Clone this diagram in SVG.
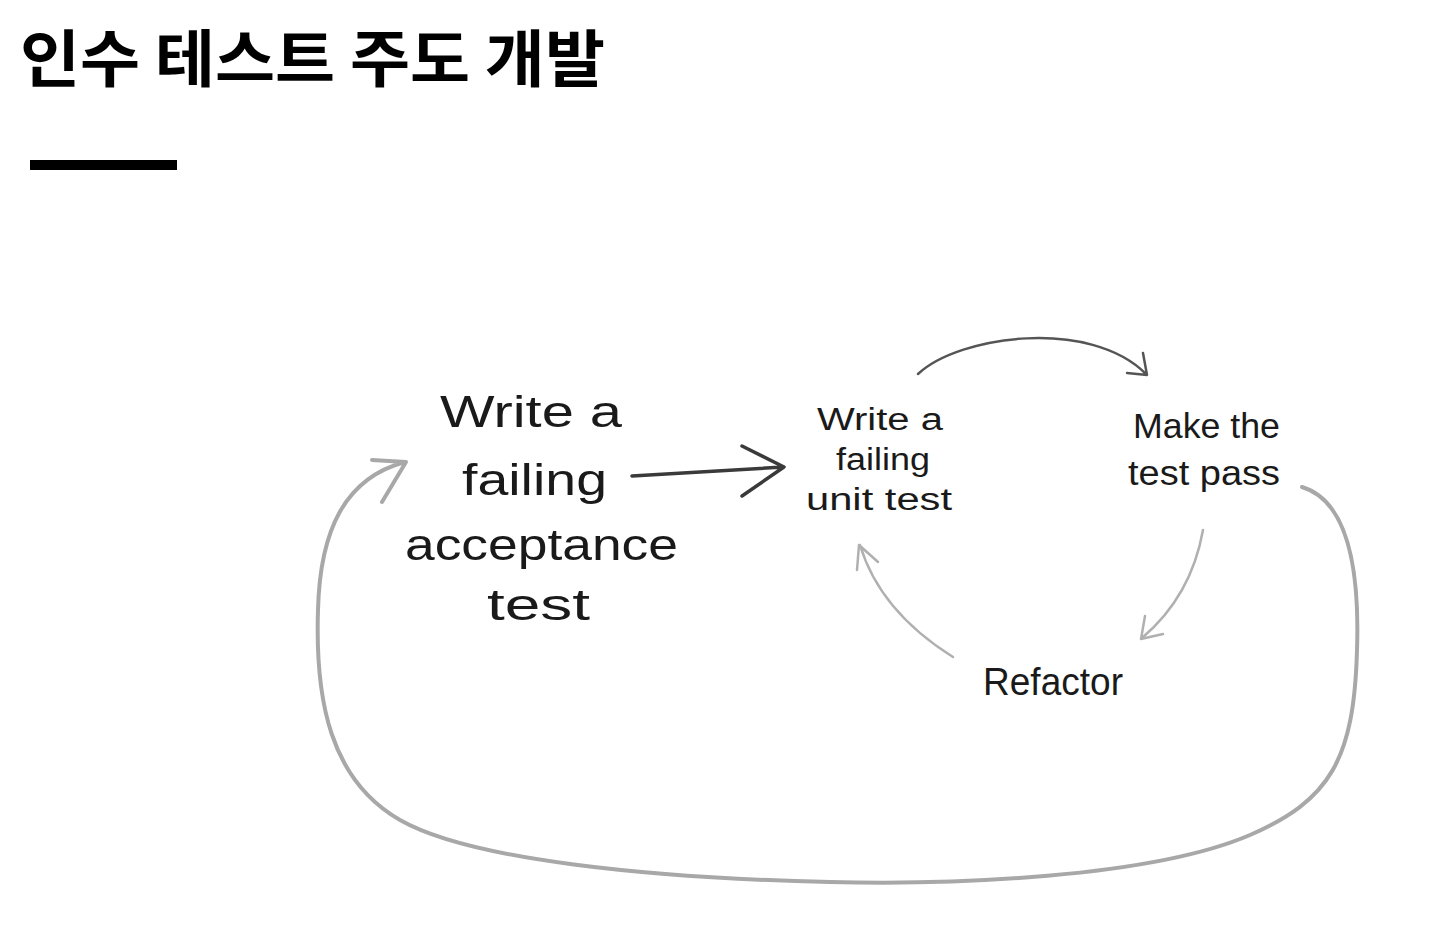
<svg xmlns="http://www.w3.org/2000/svg" width="1432" height="940" viewBox="0 0 1432 940">
<style>
.title{font-family:"Noto Sans CJK KR","Noto Sans",sans-serif;font-weight:700;font-size:62px;fill:#000}
.hand{font-family:"Liberation Sans","DejaVu Sans",sans-serif;fill:#1a1a1a}
.dark{fill:none;stroke:#3a3a3a;stroke-width:3.5;stroke-linecap:round;stroke-linejoin:round}
.mid{fill:none;stroke:#555;stroke-width:2.5;stroke-linecap:round;stroke-linejoin:round}
.light{fill:none;stroke:#b0b0b0;stroke-width:2.5;stroke-linecap:round;stroke-linejoin:round}
.loop{fill:none;stroke:#a8a8a8;stroke-width:4;stroke-linecap:round;stroke-linejoin:round}
</style>
<rect width="1432" height="940" fill="#fff"/>
<g id="title">
<text class="title" x="20" y="82" textLength="585" lengthAdjust="spacingAndGlyphs">인수 테스트 주도 개발</text>
<rect x="30" y="160" width="147" height="10" fill="#000"/>
</g>
<g id="acceptance">
<text class="hand" font-size="44" x="440" y="427" textLength="182" lengthAdjust="spacingAndGlyphs">Write a</text>
<text class="hand" font-size="44" x="462" y="495" textLength="145" lengthAdjust="spacingAndGlyphs">failing</text>
<text class="hand" font-size="44" x="405" y="560" textLength="273" lengthAdjust="spacingAndGlyphs">acceptance</text>
<text class="hand" font-size="44" x="487" y="620" textLength="103" lengthAdjust="spacingAndGlyphs">test</text>
</g>
<g id="unit">
<text class="hand" font-size="31" x="817" y="430" textLength="126" lengthAdjust="spacingAndGlyphs">Write a</text>
<text class="hand" font-size="31" x="836" y="470" textLength="94" lengthAdjust="spacingAndGlyphs">failing</text>
<text class="hand" font-size="31" x="806" y="510" textLength="146" lengthAdjust="spacingAndGlyphs">unit test</text>
</g>
<g id="pass">
<text class="hand" font-size="35" x="1133" y="438" textLength="147" lengthAdjust="spacingAndGlyphs">Make the</text>
<text class="hand" font-size="35" x="1128" y="485" textLength="152" lengthAdjust="spacingAndGlyphs">test pass</text>
</g>
<g id="refactor">
<text class="hand" font-size="38" x="983" y="695" textLength="140" lengthAdjust="spacingAndGlyphs">Refactor</text>
</g>
<g id="connectors">
<path class="dark" d="M632,476 L783,467 M742,446 L784,467 L742,496"/>
<path class="mid" d="M918,374 C960,335 1090,318 1146,374 M1127,373 L1147,375 L1143,353"/>
<path class="light" d="M1203,530 C1195,575 1175,610 1142,638 M1145,616 L1141,639 L1163,634"/>
<path class="light" d="M953,657 C910,630 875,595 860,545 M857,570 L859,545 L878,562"/>
<path class="loop" d="M1302,487 C1345,500 1360,560 1357,650 C1354,760 1330,800 1250,835 C1150,878 950,885 830,882 C650,878 470,860 400,820 C330,780 315,700 318,610 C320,530 345,478 405,462 M372,460 L406,462 L382,502"/>
</g>
</svg>
